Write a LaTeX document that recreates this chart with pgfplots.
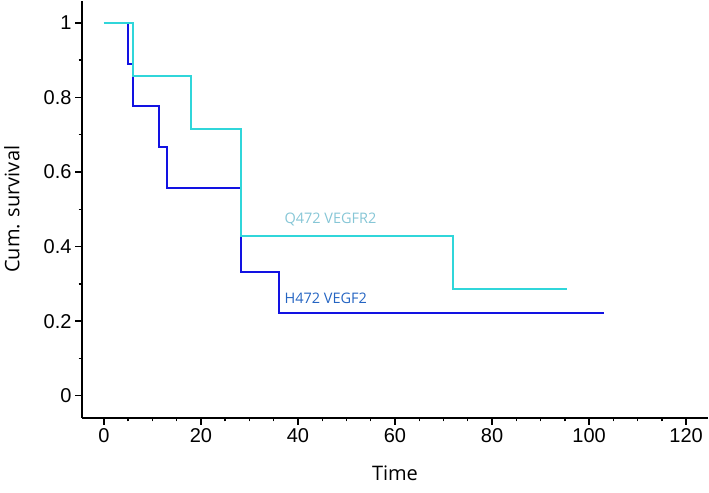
\documentclass[border=0pt]{standalone}
\usepackage{fontspec}
\setmainfont{Liberation Sans}
\newfontfamily\osans{Open Sans}
\usepackage{pgfplots}
\pgfplotsset{compat=1.18}
\definecolor{kmBlue}{HTML}{1212E2}
\definecolor{kmCyan}{HTML}{30D6DA}
\definecolor{lblCyan}{HTML}{86C6D6}
\definecolor{lblBlue}{HTML}{2464C2}

\begin{document}
\begin{tikzpicture}
\begin{axis}[
    scale only axis,
    width=626pt, height=417pt,
    xmin=-4.5, xmax=124.5,
    ymin=-0.059, ymax=1.059,
    axis x line*=bottom, axis y line*=left,
    axis line style={line width=1.6pt, -},
    xtick={0,20,40,60,80,100,120},
    ytick={0,0.2,0.4,0.6,0.8,1},
    minor x tick num=3,
    minor y tick num=1,
    tick align=outside,
    major tick length=7pt,
    minor tick length=3.5pt,
    tick style={line width=1.4pt, black},
    /pgf/number format/assume math mode=true,
    every tick label/.append style={font=\fontsize{20}{22}\selectfont},
    xlabel={Time},
    ylabel={Cum. survival},
    every axis x label/.style={at={(axis description cs:0.5,-0.134)}, anchor=center, font=\osans\fontsize{20}{22}\selectfont},
    every axis y label/.style={at={(axis description cs:-0.112,0.5)}, rotate=90, anchor=center, font=\osans\fontsize{20}{22}\selectfont},
    clip=false,
]
% H472 VEGF2
\addplot[const plot, kmBlue, line width=2pt] coordinates {
    (0,1) (5,0.889) (6,0.778) (11.3,0.667) (13,0.556) (28.2,0.333) (36,0.222) (103,0.222)
};
% Q472 VEGFR2
\addplot[const plot, kmCyan, line width=2pt] coordinates {
    (0,1) (6,0.857) (18,0.714) (28.2,0.4286) (72,0.2857) (95.5,0.2857)
};
\node[font=\osans\fontsize{14.5}{16}\selectfont, text=lblCyan, anchor=west, inner sep=0pt] at (axis cs:37.2,0.472) {Q472 VEGFR2};
\node[font=\osans\fontsize{14.5}{16}\selectfont, text=lblBlue, anchor=west, inner sep=0pt] at (axis cs:37.2,0.261) {H472 VEGF2};
\path (rel axis cs:-0.131,-0.18) rectangle (rel axis cs:1.0016,1);
\end{axis}
\end{tikzpicture}
\end{document}
